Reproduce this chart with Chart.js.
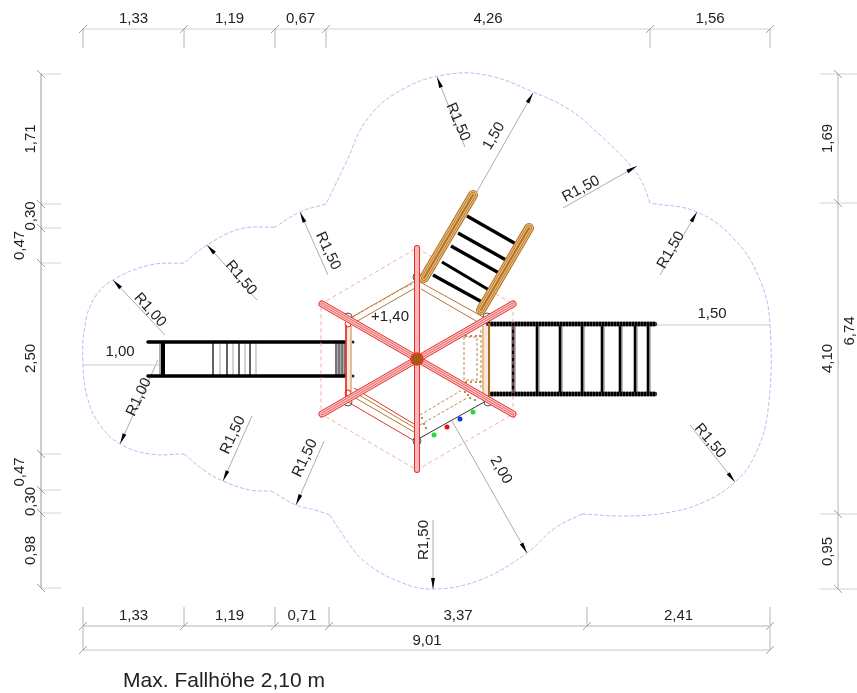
<!DOCTYPE html>
<html>
<head>
<meta charset="utf-8">
<title>Max. Fallhöhe</title>
<script src="https://cdn.jsdelivr.net/npm/chart.js@4/dist/chart.umd.min.js"></script>
<style>
  html, body { margin: 0; padding: 0; background: #fff; }
  canvas { display: block; }
</style>
</head>
<body>
<canvas id="plan" width="857" height="693"></canvas>
<script>
// dimension chains
const topLabels = ["1,33", "1,19", "0,67", "4,26", "1,56"];
const topTicks = [83, 184, 275, 326, 650, 770];
const bottomLabels = ["1,33", "1,19", "0,71", "3,37", "2,41"];
const bottomTicks = [83, 184, 275, 329, 587, 770];
const leftLabels = ["1,71", "0,30", "0,47", "2,50", "0,47", "0,30", "0,98"];
const leftTicks = [74, 204, 228, 263, 454, 490, 513, 588];
const leftLabelX = [31, 31, 20, 31, 20, 31, 31];
const rightLabels = ["1,69", "4,10", "0,95"];
const rightTicks = [74, 203, 514, 589];

// fall zone outline, one list per arc
const outlineArcs = [
  [[184, 263], [150, 265], [113, 280], [95, 297], [85, 325], [83, 365], [88, 400], [100, 425], [120, 444], [150, 454], [184, 454]],
  [[184, 454], [205, 471], [223, 481], [250, 490], [271, 491]],
  [[271, 491], [296, 505], [315, 510], [330, 515]],
  [[330, 515], [345, 538], [365, 562], [400, 582], [433, 589], [480, 580], [527, 553], [555, 528], [582, 514]],
  [[582, 514], [625, 516], [665, 513], [702, 503], [735, 482], [755, 455], [768, 410], [770, 325], [760, 280], [735, 240], [697, 212], [650, 203]],
  [[650, 203], [642, 182], [630, 165], [600, 135], [570, 110], [533, 92], [490, 76], [450, 74], [405, 88], [368, 118], [345, 165], [326, 204]],
  [[326, 204], [300, 212], [275, 227]],
  [[275, 227], [240, 229], [207, 245], [184, 263]]
];

// leaders: arrow tip, tail
const radiusLeaders = [
  [[437, 77], [465, 147]], [[637, 166], [563, 208]], [[697, 212], [660, 275]],
  [[735, 482], [690, 425]], [[433, 589], [433, 520]], [[527, 553], [452, 421]],
  [[533, 93], [475, 195]], [[296, 505], [324, 441]], [[223, 481], [252, 416]],
  [[120, 444], [158, 360]], [[113, 280], [165, 335]], [[207, 245], [257, 300]],
  [[300, 212], [328, 275]]
];
const plainLeaders = [[[83, 365], [160, 365]], [[655, 325], [770, 325]]];
const planLabels = ["R1,50", "R1,50", "R1,50", "R1,50", "R1,50", "2,00", "1,50", "R1,50", "R1,50", "R1,00", "R1,00", "R1,50", "R1,50", "1,00", "1,50", "+1,40"];
const planLabelAt = [[458, 122], [581, 189], [671, 250], [710, 441], [424, 540], [501, 470], [494, 136], [305, 458], [233, 435], [139, 397], [150, 310], [241, 278], [328, 251], [120, 352], [712, 314], [390, 317]];
const planLabelRot = [67, -28, -60, 50, -90, 60, -60, -65, -65, -65, 48, 50, 65, 0, 0, 0];

// playground tower
const hexDashed = [[417, 248], [513, 304], [513, 414], [417, 470], [321, 414], [321, 304], [417, 248]];
const braces = [[[322, 304], [513, 414]], [[322, 414], [513, 304]]];
const mast = [[417, 248], [417, 470]];
const mastFoot = [[417, 359]];
const cornerPosts = [[417, 277], [487, 317], [488, 402], [417, 441], [348, 402], [348, 317]];
const cornerRings = [[348, 324], [348, 393]];
const deckBrown = [
  [[352, 317], [415, 281]], [[354, 323], [415, 288]], [[420, 282], [485, 318]], [[421, 289], [483, 325]],
  [[352, 396], [414, 432]], [[354, 392], [415, 428]]
];
const deckRed = [[[348, 402], [413, 440]], [[354, 388], [414, 424]], [[346, 325], [346, 398]]];
const deckPale = [[[348.5, 326], [348.5, 392]], [[485.5, 326], [485.5, 396]]];
const deckTan = [[[351, 326], [351, 392]], [[483, 326], [483, 396]]];
const deckRightEdge = [[489, 323], [489, 399]];
const panelDashed = [
  [[464, 337], [464, 380], [477, 380], [477, 337], [464, 337]],
  [[481, 330], [481, 390]],
  [[420, 415], [462, 390]],
  [[420, 425], [467, 398]],
  [[353, 317], [368, 308], [381, 301], [398, 291], [412, 284]]
];
const panelDots = [
  [466, 336], [471, 336], [476, 336], [480, 336], [466, 382], [471, 382], [476, 382], [480, 382],
  [422, 418], [424, 424], [426, 428], [465, 392], [470, 390], [468, 395], [475, 400], [470, 398]
];
const frontEdge = [[420, 438], [486, 401]];
const greenDots = [[434, 435], [473, 412]];
const redDots = [[447, 427]];
const blueDots = [[460, 419]];

// climbing ladder, upper right
const ladderRails = [[[424, 278], [473, 195]], [[481, 310], [529, 228]]];
const ladderRungs = [
  [[467, 216], [516, 244]], [[458, 233], [506, 260]], [[451, 246], [499, 273]],
  [[442, 262], [489, 290]], [[433, 275], [482, 302]]
];

// slide on the left
const slideRails = [[[148, 342], [346, 342]], [[148, 376], [346, 376]]];
const slideStepsDark = [213, 227, 239, 250];
const slideStepsGrey = [220, 233, 245, 256];
const slideEndDark = [336, 339, 342, 345];
const slideBolts = [[353, 342], [353, 376]];

// net on the right
const netRails = [[[488, 324], [655, 324]], [[488, 394], [655, 394]]];
const netRungs = [513, 537, 560, 582, 602, 620, 635, 648];

const datasets = [];
function addLine(points, color, width, extra) {
  datasets.push(Object.assign({
    data: points.map((p) => ({ x: p[0], y: p[1] })),
    showLine: true,
    borderColor: color,
    borderWidth: width,
    pointRadius: 0,
    fill: false,
    order: -datasets.length,
    clip: false
  }, extra || {}));
}
function addDots(points, radius, fillColor, lineColor, lineWidth) {
  datasets.push({
    data: points.map((p) => ({ x: p[0], y: p[1] })),
    showLine: false,
    pointRadius: radius,
    pointBackgroundColor: fillColor,
    pointBorderColor: lineColor,
    pointBorderWidth: lineWidth,
    order: -datasets.length,
    clip: false
  });
}

// dimension chains
const dimGrey = "#d4d4d4";
const tickGrey = "#666666";
function slash(x, y) {
  addLine([[x - 4, y + 4], [x + 4, y - 4]], tickGrey, 0.6);
}
function backslash(x, y) {
  addLine([[x - 4, y - 4], [x + 4, y + 4]], tickGrey, 0.6);
}
addLine([[83, 29], [770, 29]], dimGrey, 1);
topTicks.forEach((x) => { addLine([[x, 29], [x, 48]], dimGrey, 1); slash(x, 29); });
addLine([[83, 626], [770, 626]], "#b5b5b5", 1);
bottomTicks.forEach((x) => { addLine([[x, 607], [x, 626]], dimGrey, 1); slash(x, 626); });
addLine([[83, 650], [770, 650]], "#c4c4c4", 1);
addLine([[83, 626], [83, 650]], dimGrey, 1);
addLine([[770, 626], [770, 650]], dimGrey, 1);
slash(83, 650);
slash(770, 650);
addLine([[41, 74], [41, 588]], "#c4c4c4", 1);
leftTicks.forEach((y) => { addLine([[41, y], [61, y]], dimGrey, 1); backslash(41, y); });
addLine([[838, 74], [838, 589]], dimGrey, 1);
rightTicks.forEach((y) => { addLine([[820, y], [857, y]], dimGrey, 1); backslash(838, y); });

// outline and leaders
outlineArcs.forEach((arc) => addLine(arc, "#9c9cea", 0.7, { tension: 0.4, borderDash: [4, 2] }));
radiusLeaders.forEach((l) => addLine(l, "#8a8a8a", 0.7));
plainLeaders.forEach((l) => addLine(l, "#cccccc", 1));

// slide
addLine([[340, 342], [340, 376]], "#a8a8a8", 10);
slideEndDark.forEach((x) => addLine([[x, 342], [x, 376]], "#666666", 0.7));
slideStepsDark.forEach((x) => addLine([[x, 342], [x, 376]], "#444444", 0.9));
slideStepsGrey.forEach((x) => addLine([[x, 342], [x, 376]], "#b8b8b8", 1.2));
addLine([[160, 342], [160, 376]], "#999999", 0.8);
addLine([[163, 342], [163, 376]], "#000000", 4);
slideRails.forEach((r) => addLine(r, "#000000", 3.5, { borderCapStyle: "round" }));
addDots(slideBolts, 1.5, "#222222", "#222222", 0);

// net
netRungs.forEach((x) => {
  addLine([[x + 2, 326], [x + 2, 392]], "#b0b0b0", 1);
  addLine([[x, 326], [x, 392]], "#000000", 2.6);
});
netRails.forEach((r) => {
  addLine(r, "#3a3a3a", 4.5, { borderCapStyle: "round" });
  addLine(r, "#000000", 4.5, { borderDash: [2, 1] });
});

// tower deck
addLine(hexDashed, "#f3a3a3", 0.9, { borderDash: [4, 3] });
deckPale.forEach((l) => addLine(l, "#f8e8da", 5));
deckTan.forEach((l) => addLine(l, "#dcb78c", 1));
deckBrown.forEach((l) => addLine(l, "#b9762e", 1));
deckRed.forEach((l) => addLine(l, "#e53030", 1));
addLine(deckRightEdge, "#ad6a1c", 2);
panelDashed.forEach((l) => addLine(l, "#c08a4a", 1, { borderDash: [3, 2] }));
addDots(panelDots, 1, "#a8661e", "#a8661e", 0);
addLine(frontEdge, "#333333", 1);
addDots(greenDots, 2.5, "#22dd33", "#22dd33", 0);
addDots(redDots, 2.5, "#ee1111", "#ee1111", 0);
addDots(blueDots, 2.5, "#1133ee", "#1133ee", 0);
addDots(cornerPosts, 4, "rgba(0,0,0,0)", "#555555", 1);
addDots(cornerRings, 3, "rgba(0,0,0,0)", "#e62e2e", 1);

// ladder
ladderRungs.forEach((l) => addLine(l, "#000000", 3.2));
ladderRails.forEach((r) => {
  addLine(r, "#b3701f", 10, { borderCapStyle: "round" });
  addLine(r, "#e8c08c", 8, { borderCapStyle: "round" });
  addLine(r, "#c07e30", 6, { borderCapStyle: "round" });
  addLine(r, "#e8c08c", 4, { borderCapStyle: "round" });
  addLine(r, "#b3701f", 2, { borderCapStyle: "round" });
});

// mast and braces
braces.forEach((r) => {
  addLine(r, "#e62e2e", 7, { borderCapStyle: "round" });
  addLine(r, "#fbd0d0", 5, { borderCapStyle: "round" });
  addLine(r, "#ef5a5a", 3, { borderCapStyle: "round" });
  addLine(r, "#fbd0d0", 1.2, { borderCapStyle: "round" });
});
addLine(mast, "#e62e2e", 6, { borderCapStyle: "round" });
addLine(mast, "#f8b8b8", 4, { borderCapStyle: "round" });
addDots(mastFoot, 6, "#a65c10", "#e63a2a", 1.6);

// arrow heads and all text on top of the library's datasets
const annotations = {
  id: "annotations",
  afterDatasetsDraw(chart) {
    const ctx = chart.ctx;
    const sx = chart.scales.x;
    const sy = chart.scales.y;
    ctx.save();
    ctx.fillStyle = "#000000";
    radiusLeaders.forEach((l) => {
      const tx = sx.getPixelForValue(l[0][0]);
      const ty = sy.getPixelForValue(l[0][1]);
      const a = Math.atan2(sy.getPixelForValue(l[1][1]) - ty, sx.getPixelForValue(l[1][0]) - tx);
      ctx.save();
      ctx.translate(tx, ty);
      ctx.rotate(a);
      ctx.beginPath();
      ctx.moveTo(0, 0);
      ctx.lineTo(11, -2);
      ctx.lineTo(11, 2);
      ctx.closePath();
      ctx.fill();
      ctx.restore();
    });

    function text(str, x, y, deg, font) {
      ctx.save();
      ctx.translate(sx.getPixelForValue(x), sy.getPixelForValue(y));
      ctx.rotate(deg * Math.PI / 180);
      ctx.font = font || "15px 'Liberation Sans'";
      ctx.fillStyle = "#222222";
      ctx.textAlign = "center";
      ctx.textBaseline = "middle";
      ctx.fillText(str, 0, 0);
      ctx.restore();
    }
    const mid = (list, i) => (list[i] + list[i + 1]) / 2;
    topLabels.forEach((t, i) => text(t, mid(topTicks, i), 18.5, 0));
    bottomLabels.forEach((t, i) => text(t, mid(bottomTicks, i), 615.5, 0));
    leftLabels.forEach((t, i) => text(t, leftLabelX[i], mid(leftTicks, i), -90));
    rightLabels.forEach((t, i) => text(t, 828, mid(rightTicks, i), -90));
    text("6,74", 850, 331, -90);
    text("9,01", 427, 640.5, 0);
    planLabels.forEach((t, i) => text(t, planLabelAt[i][0], planLabelAt[i][1], planLabelRot[i]));
    text("Max. Fallhöhe 2,10 m", 224, 681, 0, "21px 'Liberation Sans'");
    ctx.restore();
  }
};

new Chart(document.getElementById("plan"), {
  type: "scatter",
  data: { datasets: datasets },
  plugins: [annotations],
  options: {
    responsive: false,
    animation: false,
    layout: { padding: 0, autoPadding: false },
    scales: {
      x: { type: "linear", min: 0, max: 857, display: false },
      y: { type: "linear", min: 0, max: 693, reverse: true, display: false }
    },
    plugins: {
      legend: { display: false },
      tooltip: { enabled: false },
      title: { display: false }
    }
  }
});
</script>
</body>
</html>
